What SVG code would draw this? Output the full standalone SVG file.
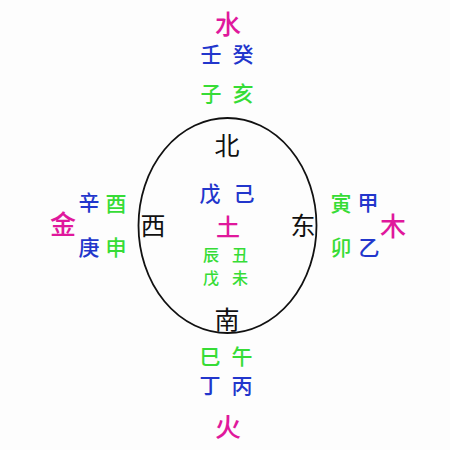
<svg xmlns="http://www.w3.org/2000/svg" width="450" height="450" viewBox="0 0 450 450">
<style>
text{font-family:"Noto Sans CJK SC","Noto Sans CJK JP",sans-serif;text-anchor:middle;dominant-baseline:central;font-weight:500}
.m{fill:#e0189c;font-size:26px}
.b{fill:#2236cc;font-size:21px}
.g{fill:#36dc36;font-size:21px}
.k{fill:#111;font-size:25px;font-weight:400}
.s{font-size:16px}
</style>
<rect width="450" height="450" fill="#fdfdfd"/>
<g id="connectors"><ellipse cx="227.500" cy="225.500" rx="89" ry="107.500" fill="none" stroke="#111" stroke-width="1.800"/></g>
<g id="north"><text class="m" x="228" y="22">水</text><text class="b" x="211" y="53">壬</text><text class="b" x="243" y="53">癸</text><text class="g" x="211" y="92">子</text><text class="g" x="243" y="92">亥</text><text class="k" x="227" y="144">北</text></g>
<g id="center"><text class="b" x="210" y="192">戊</text><text class="b" x="244" y="192">己</text><text class="m" x="228" y="225" style="font-size:24px">土</text><text class="g s" x="211" y="254">辰</text><text class="g s" x="240" y="254">丑</text><text class="g s" x="211" y="277">戊</text><text class="g s" x="240" y="277">未</text></g>
<g id="west"><text class="k" x="153" y="224">西</text><text class="b" x="89" y="201">辛</text><text class="g" x="116" y="202">酉</text><text class="m" x="63" y="222">金</text><text class="b" x="89" y="246">庚</text><text class="g" x="116" y="246">申</text></g>
<g id="east"><text class="k" x="303" y="224">东</text><text class="g" x="341" y="202">寅</text><text class="b" x="368" y="201">甲</text><text class="m" x="393" y="224">木</text><text class="g" x="341" y="246">卯</text><text class="b" x="369" y="246">乙</text></g>
<g id="south"><text class="k" x="227" y="318">南</text><text class="g" x="210" y="355">巳</text><text class="g" x="242" y="355">午</text><text class="b" x="210" y="384">丁</text><text class="b" x="242" y="384">丙</text><text class="m" x="228" y="425">火</text></g>
</svg>
